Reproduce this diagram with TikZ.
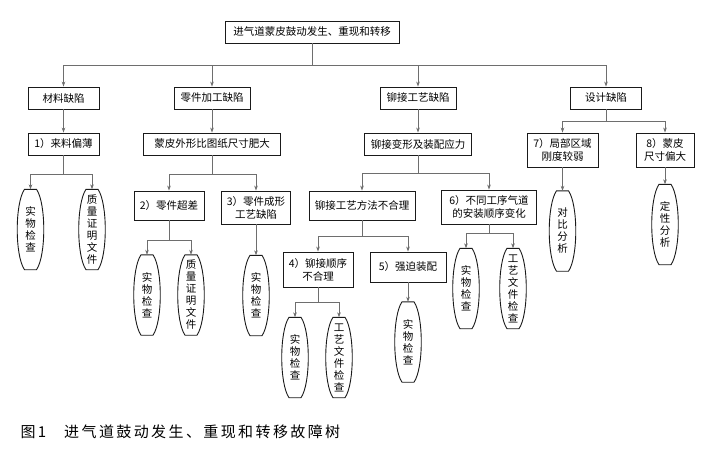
\documentclass[tikz,border=0pt]{standalone}
\usepackage{fontspec}
\setmainfont{Noto Sans CJK SC}
\usepackage{tikz}
\usetikzlibrary{arrows.meta}
\definecolor{boxline}{HTML}{1A1A1A}
\definecolor{linkline}{HTML}{6E6E6E}

\begin{document}
\begin{tikzpicture}[x=1pt,y=-1pt,font=\fontsize{10.5}{13}\selectfont,
box/.style={draw=boxline,line width=.9pt,align=center,inner sep=0pt,minimum height=22pt},
leaf/.style={minimum width=25pt,minimum height=80pt,inner sep=0pt,align=center,font=\fontsize{10.5}{12}\selectfont},
barrel/.style={draw=boxline,line width=.9pt},
arrow/.style={-{Stealth[length=5pt,width=3.6pt]},line width=.7pt,draw=linkline}]
\useasboundingbox (0,0) rectangle (725,461);
% top event and first level
\node[box,minimum width=174pt] (root) at (312,32) {进气道蒙皮鼓动发生、重现和转移};
\node[box,minimum width=71pt] (mat) at (63.5,98) {材料缺陷};
\node[box,minimum width=76pt] (part) at (212,98) {零件加工缺陷};
\node[box,minimum width=76pt] (rivet) at (418,98) {铆接工艺缺陷};
\node[box,minimum width=71pt] (design) at (606,98) {设计缺陷};
% second level
\node[box,minimum width=71pt] (thin) at (63.5,144) {1）来料偏薄};
\node[box,minimum width=137pt] (oversize) at (212,144) {蒙皮外形比图纸尺寸肥大};
\node[box,minimum width=107pt] (stress) at (418,144) {铆接变形及装配应力};
\node[box,minimum width=71pt,minimum height=34pt] (local) at (562.5,150) {7）局部区域\\刚度较弱};
\node[box,minimum width=58pt,minimum height=34pt] (skin) at (665,150) {8）蒙皮\\尺寸偏大};
% third level
\node[box,minimum width=70pt,minimum height=29pt] (tol) at (169,205.5) {2）零件超差};
\node[box,minimum width=69pt,minimum height=33pt] (form) at (256,207.5) {3）零件成形\\工艺缺陷};
\node[box,minimum width=106pt,minimum height=29pt] (method) at (362,205.5) {铆接工艺方法不合理};
\node[box,minimum width=95pt,minimum height=34pt] (order) at (489,207) {6）不同工序气道\\的安装顺序变化};
\node[box,minimum width=70pt,minimum height=35pt] (seq) at (318,269.5) {4）铆接顺序\\不合理};
\node[box,minimum width=76pt,minimum height=30pt] (force) at (408,267) {5）强迫装配};
% checks
\node[leaf] (L1) at (30.5,229.5) {实\\物\\检\\查};
\node[leaf] (L2) at (92,229.5) {质\\量\\证\\明\\文\\件};
\node[leaf] (L3) at (147,295) {实\\物\\检\\查};
\node[leaf] (L4) at (191,295) {质\\量\\证\\明\\文\\件};
\node[leaf] (L5) at (256,295.5) {实\\物\\检\\查};
\node[leaf] (L6) at (295,357.5) {实\\物\\检\\查};
\node[leaf] (L7) at (339,357.5) {工\\艺\\文\\件\\检\\查};
\node[leaf] (L8) at (408,342) {实\\物\\检\\查};
\node[leaf] (L9) at (466,288.5) {实\\物\\检\\查};
\node[leaf] (L10) at (513,288.5) {工\\艺\\文\\件\\检\\查};
\node[leaf] (L11) at (562.5,231) {对\\比\\分\\析};
\node[leaf] (L12) at (665,224.5) {定\\性\\分\\析};
\foreach \n in {L1,L2,L3,L4,L5,L6,L7,L8,L9,L10,L11,L12}
  \draw[barrel] ([xshift=-6pt]\n.north) -- ([xshift=6pt]\n.north)
    .. controls ([xshift=3pt,yshift=-14pt]\n.north east) and ([xshift=3pt,yshift=14pt]\n.south east) .. ([xshift=6pt]\n.south)
    -- ([xshift=-6pt]\n.south)
    .. controls ([xshift=-3pt,yshift=14pt]\n.south west) and ([xshift=-3pt,yshift=-14pt]\n.north west) .. cycle;
% connectors
\foreach \c in {mat,part,rivet,design}
  \draw[arrow] (root.south) -- ++(0,22) -| (\c.north);
\draw[arrow] (mat) -- (thin);
\draw[arrow] (part) -- (oversize);
\draw[arrow] (rivet) -- (stress);
\draw[arrow] (design.south) -- ++(0,12) -| (local.north);
\draw[arrow] (design.south) -- ++(0,12) -| (skin.north);
\draw[arrow] (thin.south) -- ++(0,19) -| (L1.north);
\draw[arrow] (thin.south) -- ++(0,19) -| (L2.north);
\draw[arrow] (oversize.south) -- ++(0,19) -| (tol.north);
\draw[arrow] (oversize.south) -- ++(0,19) -| (form.north);
\draw[arrow] (stress.south) -- ++(0,18) -| (method.north);
\draw[arrow] (stress.south) -- ++(0,18) -| (order.north);
\draw[arrow] (tol.south) -- ++(0,20) -| (L3.north);
\draw[arrow] (tol.south) -- ++(0,20) -| (L4.north);
\draw[arrow] (form) -- (L5);
\draw[arrow] (method.south) -- ++(0,16) -| (seq.north);
\draw[arrow] (method.south) -- ++(0,16) -| (force.north);
\draw[arrow] (seq.south) -- ++(0,15) -| (L6.north);
\draw[arrow] (seq.south) -- ++(0,15) -| (L7.north);
\draw[arrow] (force) -- (L8);
\draw[arrow] (order.south) -- ++(0,9) -| (L9.north);
\draw[arrow] (order.south) -- ++(0,9) -| (L10.north);
\draw[arrow] (local) -- (L11);
\draw[arrow] (skin) -- (L12);
% caption
\node[anchor=west,font=\fontsize{15}{18}\selectfont\addfontfeature{LetterSpace=16}] (caption) at (17,432) {图1\hspace{18pt}进气道鼓动发生、重现和转移故障树};
\end{tikzpicture}
\end{document}
